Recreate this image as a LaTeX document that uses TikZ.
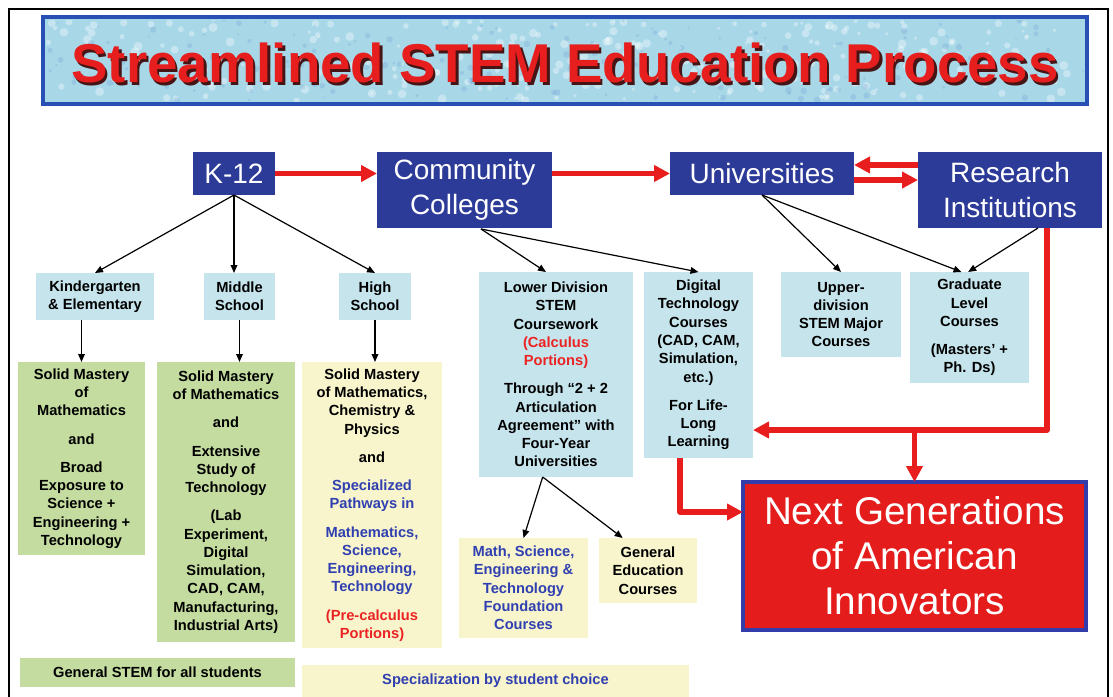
\documentclass[tikz,border=0pt]{standalone}
\usepackage{fontspec}
\setmainfont{Liberation Sans}
\usetikzlibrary{arrows.meta,calc}
\definecolor{navy}{RGB}{44,58,152}
\definecolor{lblue}{RGB}{198,228,236}
\definecolor{lgreen}{RGB}{196,220,160}
\definecolor{lyellow}{RGB}{248,244,204}
\definecolor{redarr}{RGB}{232,30,30}
\definecolor{ngred}{RGB}{228,28,28}
\definecolor{ngborder}{RGB}{50,60,170}
\definecolor{tblue}{RGB}{48,64,176}
\definecolor{tred}{RGB}{235,35,35}
\definecolor{bannerfill}{RGB}{168,216,232}
\definecolor{bannerblue}{RGB}{40,80,180}
\definecolor{titlered}{RGB}{230,30,30}
\definecolor{titleshadow}{RGB}{70,20,20}
\begin{document}
\begin{tikzpicture}[x=0.75pt,y=-0.75pt,
  sz/.style 2 args={minimum width={(#1)*0.75pt}, minimum height={(#2)*0.75pt}, inner sep=0pt, outer sep=0pt},
  navybox/.style={fill=navy, text=white, align=center, font=\fontsize{21}{26}\selectfont},
  smalltxt/.style={align=center, font=\bfseries\fontsize{11}{13.7}\selectfont},
  lb/.style={fill=lblue, smalltxt},
  gb/.style={fill=lgreen, smalltxt},
  yb/.style={fill=lyellow, smalltxt},
  blackarr/.style={draw=black, line width=0.9pt, -{Triangle[length=6pt,width=5pt]}},
  redarrow/.style={draw=redarr, line width=4.2pt, -{Triangle[length=12pt,width=12pt]}},
  redline/.style={draw=redarr, line width=4.2pt}
]
\useasboundingbox (0,0) rectangle (1113,696);
\fill[white] (0,0) rectangle (1113,696);
% outer frame
\draw[line width=2.2pt] (9,720) -- (9,9) -- (1108,9) -- (1108,720);

% banner
\node[draw=bannerblue, line width=3.5pt, fill=bannerfill, sz={1044}{87}] (banner) at (565,60.5) {};
\begin{scope}
\clip (46,20) rectangle (1084,101);
\pgfmathsetseed{3}
\foreach \i in {1,...,260}{
  \pgfmathsetmacro{\rx}{46+1038*rnd}
  \pgfmathsetmacro{\ry}{20+81*rnd}
  \pgfmathsetmacro{\rr}{1.5+3*rnd}
  \fill[white,opacity=0.35] (\rx,\ry) circle[radius=\rr];
}
\foreach \i in {1,...,160}{
  \pgfmathsetmacro{\rx}{46+1038*rnd}
  \pgfmathsetmacro{\ry}{20+81*rnd}
  \pgfmathsetmacro{\rr}{1+2.5*rnd}
  \fill[bannerblue,opacity=0.12] (\rx,\ry) circle[radius=\rr];
}
\end{scope}
\node[anchor=base, font=\bfseries\fontsize{41}{45}\selectfont, text=titleshadow] (titleshadow) at (567.5,85) {Streamlined STEM Education Process};
\node[anchor=base, font=\bfseries\fontsize{41}{45}\selectfont, text=titlered] (title) at (565,82) {Streamlined STEM Education Process};

% navy boxes
\node[navybox, sz={82}{43}] (k12) at (234,173.5) {K-12};
\node[navybox, sz={175}{76}] (cc) at (464.5,190) {Community\\Colleges};
\node[navybox, sz={184}{43}] (univ) at (762,173.5) {Universities};
\node[navybox, sz={184}{76}] (res) at (1010,190) {Research\\Institutions};

% light blue boxes
\node[lb, sz={118}{47}] (kg) at (95,296.5) {Kindergarten\\\& Elementary};
\node[lb, sz={71}{47}] (ms) at (239.5,296.5) {Middle\\School};
\node[lb, sz={72}{47}] (hs) at (375,296.5) {High\\School};
\node[lb, sz={154}{205}] (ld) at (556,374.5) {Lower Division\\STEM\\Coursework\\\textcolor{tred}{(Calculus}\\\textcolor{tred}{Portions)}\\[7.5pt]Through “2 + 2\\Articulation\\Agreement” with\\Four-Year\\Universities};
\node[lb, sz={109}{186}] (dt) at (698.5,365) {Digital\\Technology\\Courses\\(CAD, CAM,\\Simulation,\\etc.)\\[7.5pt]For Life-\\Long\\Learning};
\node[lb, sz={120}{85}] (ud) at (841,314.5) {Upper-\\division\\STEM Major\\Courses};
\node[lb, sz={119}{111}] (gr) at (969.5,327.5) {Graduate\\Level\\Courses\\[7.5pt](Masters' +\\Ph. Ds)};

% green / yellow boxes
\node[gb, sz={127}{193}] (g1) at (81.5,458.5) {Solid Mastery\\of\\Mathematics\\[7.5pt]and\\[7.5pt]Broad\\Exposure to\\Science +\\Engineering +\\Technology};
\node[gb, sz={138}{280}] (g2) at (226,502) {Solid Mastery\\of Mathematics\\[7.5pt]and\\[7.5pt]Extensive\\Study of\\Technology\\[7.5pt](Lab\\Experiment,\\Digital\\Simulation,\\CAD, CAM,\\Manufacturing,\\Industrial Arts)};
\node[yb, sz={140}{286}] (y3) at (372,505) {Solid Mastery\\of Mathematics,\\Chemistry \&\\Physics\\[7.5pt]and\\[7.5pt]\textcolor{tblue}{Specialized}\\\textcolor{tblue}{Pathways in}\\[7.5pt]\textcolor{tblue}{Mathematics,}\\\textcolor{tblue}{Science,}\\\textcolor{tblue}{Engineering,}\\\textcolor{tblue}{Technology}\\[7.5pt]\textcolor{tred}{(Pre-calculus}\\\textcolor{tred}{Portions)}};
\node[yb, sz={129}{100}, text=tblue] (msf) at (523.5,588) {Math, Science,\\Engineering \&\\Technology\\Foundation\\Courses};
\node[yb, sz={98}{65}] (ge) at (648,570.5) {General\\Education\\Courses};
\node[gb, sz={275}{29}] (bar1) at (157.5,672.5) {General STEM for all students};
\node[yb, sz={387}{32}, text=tblue] (bar2) at (495.5,681) {Specialization by student choice};

% next generations
\node[fill=ngred, draw=ngborder, line width=2.5pt, sz={343}{148}] (ng) at (914.5,556) {};
\node[align=center, text=white, font=\fontsize{29}{33.75}\selectfont] (ngt) at (914.5,556) {Next Generations\\of American\\Innovators};

% black arrows
\draw[blackarr] (k12.south) -- (kg.north);
\draw[blackarr] (k12.south) -- (k12.south |- ms.north);
\draw[blackarr] (k12.south) -- (hs.north);
\draw[blackarr] (g1.north |- kg.south) -- (g1.north);
\draw[blackarr] (ms.south) -- (ms.south |- g2.north);
\draw[blackarr] (hs.south) -- (hs.south |- y3.north);
\coordinate (ccs) at (481,229);
\draw[blackarr] (ccs) -- ([xshift=-7.5pt]ld.north);
\draw[blackarr] (ccs) -- (dt.north);
\draw[blackarr] (univ.south) -- (ud.north);
\draw[blackarr] (univ.south) -- ([xshift=-6pt]gr.north);
\draw[blackarr] ([xshift=21pt]res.south) -- ([xshift=-1pt]gr.north);
\draw[blackarr] ([xshift=-10pt]ld.south) -- (msf.north);
\draw[blackarr] ([xshift=-10pt]ld.south) -- ([xshift=-19pt]ge.north);

% red arrows
\draw[redarrow] (k12.east) -- (k12.east -| cc.west);
\draw[redarrow] (univ.west -| cc.east) -- (univ.west);
\draw[redarrow] ([yshift=6.4pt]univ.east -| res.west) -- ([yshift=6.4pt]univ.east);
\draw[redarrow] ([yshift=-4.9pt]univ.east) -- ([yshift=-4.9pt]univ.east -| res.west);
\coordinate (rdn) at (1047,430);
\draw[redarrow, line join=round] (res.south -| rdn) -- (rdn) -- (rdn -| dt.east);
\draw[redarrow] (ng.north |- rdn) -- (ng.north);
\draw[redarrow, line join=round] ([xshift=-13.9pt]dt.south) |- ([yshift=33pt]ng.west);
\end{tikzpicture}
\end{document}
